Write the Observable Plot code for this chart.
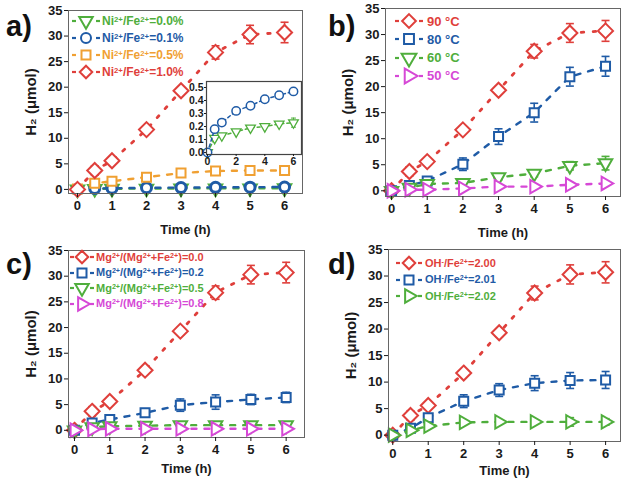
<!DOCTYPE html>
<html><head><meta charset="utf-8">
<script src="https://cdn.jsdelivr.net/npm/d3@7"></script>
<script src="https://cdn.jsdelivr.net/npm/@observablehq/plot@0.6"></script>
<style>
body{margin:0;background:#fff;}
#wrap{position:relative;width:628px;height:478px;overflow:hidden;font-family:"Liberation Sans",Arial,sans-serif;}
.panel{position:absolute;}
.plbl{position:absolute;font-weight:bold;font-size:29px;color:#111;line-height:1;}
.leg{position:absolute;font-weight:bold;white-space:nowrap;display:flex;align-items:center;transform:translateY(-50%);line-height:1;}
.leg sup{font-size:0.65em;vertical-align:0.45em;line-height:0;}
.leg svg{margin-right:1px;}
</style></head><body><div id="wrap"></div>
<script>
// ---------- data ----------
const time = [0, 0.5, 1, 2, 3, 4, 5, 6];
const xTicks = [0, 1, 2, 3, 4, 5, 6];
const yTicks = [0, 5, 10, 15, 20, 25, 30, 35];
const insetXTicks = [0, 2, 4, 6];
const insetYTicks = [0, 0.1, 0.2, 0.3, 0.4, 0.5];

// reference (Ni/Fe=1.0%, 90 °C, Mg=0.0, OH/Fe=2.00) – same sample in all panels
const redA = [0, 3.7, 5.6, 11.7, 19.3, 26.8, 30.3, 30.7];
const redErr = [0, 0.9, 0.6, 0.6, 0.7, 1.3, 1.8, 2.0];

// panel a
const aLabels = ["Ni<sup>2+</sup>/Fe<sup>2+</sup>=0.0%", "Ni<sup>2+</sup>/Fe<sup>2+</sup>=0.1%", "Ni<sup>2+</sup>/Fe<sup>2+</sup>=0.5%", "Ni<sup>2+</sup>/Fe<sup>2+</sup>=1.0%"];
const aNi00 = [0, 0.11, 0.13, 0.16, 0.19, 0.20, 0.22, 0.23];
const aNi00Err = [0, 0.01, 0.01, 0.01, 0.01, 0.01, 0.015, 0.035];
const aNi01 = [0, 0.18, 0.23, 0.32, 0.36, 0.41, 0.44, 0.47];
const aNi01Err = [0, 0.01, 0.01, 0.01, 0.01, 0.01, 0.01, 0.01];
const aNi05 = [0.1, 1.2, 1.6, 2.4, 3.2, 3.6, 3.7, 3.7];
const aNi05Err = [0, 0.3, 0.3, 0.3, 0.3, 0.3, 0.4, 0.4];

// panel b
const bLabels = ["90 °C", "80 °C", "60 °C", "50 °C"];
const b80 = [0, 1.0, 1.9, 5.1, 10.4, 15.0, 21.9, 23.9];
const b80Err = [0, 0.4, 0.4, 1.2, 1.5, 1.8, 1.8, 1.9];
const b60 = [0, 0.6, 1.3, 1.5, 2.6, 3.3, 4.8, 5.3];
const b60Err = [0, 0.3, 0.3, 0.4, 0.5, 0.6, 0.8, 1.3];
const b50 = [0, 0.2, 0.2, 0.45, 0.8, 0.8, 1.15, 1.4];
const b50Err = [0, 0.2, 0.2, 0.2, 0.2, 0.2, 0.3, 0.3];

// panel c
const cLabels = ["Mg<sup>2+</sup>/(Mg<sup>2+</sup>+Fe<sup>2+</sup>)=0.0", "Mg<sup>2+</sup>/(Mg<sup>2+</sup>+Fe<sup>2+</sup>)=0.2", "Mg<sup>2+</sup>/(Mg<sup>2+</sup>+Fe<sup>2+</sup>)=0.5", "Mg<sup>2+</sup>/(Mg<sup>2+</sup>+Fe<sup>2+</sup>)=0.8"];
const cMg02 = [0, 1.4, 2.1, 3.4, 4.9, 5.5, 6.0, 6.4];
const cMg02Err = [0, 0.4, 0.4, 0.8, 1.2, 1.4, 1.0, 1.0];
const cMg05 = [0, 0.6, 0.8, 0.9, 1.0, 1.0, 1.0, 1.0];
const cMg05Err = [0, 0.3, 0.3, 0.3, 0.3, 0.3, 0.3, 0.3];
const cMg08 = [0, 0.2, 0.3, 0.3, 0.3, 0.3, 0.3, 0.3];
const cMg08Err = [0, 0.2, 0.2, 0.2, 0.2, 0.2, 0.2, 0.2];

// panel d
const dLabels = ["OH<sup>-</sup>/Fe<sup>2+</sup>=2.00", "OH<sup>-</sup>/Fe<sup>2+</sup>=2.01", "OH<sup>-</sup>/Fe<sup>2+</sup>=2.02"];
const dOH201 = [0, 1.3, 3.3, 6.4, 8.5, 9.8, 10.3, 10.4];
const dOH201Err = [0, 0.4, 0.6, 1.2, 1.2, 1.4, 1.5, 1.6];
const dOH202 = [0, 0.9, 1.7, 2.4, 2.5, 2.5, 2.5, 2.5];
const dOH202Err = [0, 0.3, 0.3, 0.3, 0.3, 0.3, 0.8, 0.6];

// ---------- styles ----------
const RED = "#df3f3b", BLUE = "#1f5ba6", GREEN = "#4fae3c", ORANGE = "#f0a032", MAGENTA = "#d648d6";
const s3 = Math.sqrt(3);
const triDown = {draw(ctx, size){ const y = -Math.sqrt(size / (s3 * 3)); ctx.moveTo(0, -2*y); ctx.lineTo(-s3*y, y); ctx.lineTo(s3*y, y); ctx.closePath(); }};
const triRight = {draw(ctx, size){ const y = -Math.sqrt(size / (s3 * 3)); ctx.moveTo(-2*y, 0); ctx.lineTo(y, -s3*y); ctx.lineTo(y, s3*y); ctx.closePath(); }};
const capSym = {draw(ctx, size){ const w = Math.sqrt(size / Math.PI); ctx.moveTo(-w, 0); ctx.lineTo(w, 0); }};
const diamond = {draw(ctx, size){ const r = Math.sqrt(size / Math.PI) * 1.25; ctx.moveTo(0, -r); ctx.lineTo(r, 0); ctx.lineTo(0, r); ctx.lineTo(-r, 0); ctx.closePath(); }};
const square = {draw(ctx, size){ const r = Math.sqrt(size / Math.PI) * 0.9; ctx.rect(-r, -r, 2*r, 2*r); }};
const circle = "circle";

const DOT = "2.5,9.5", DASH = "5,8";

const red = (label) => ({label, values: redA, err: redErr, color: RED, symbol: diamond, dash: DOT, lw: 2.8, r: 6});

const wrap = document.getElementById("wrap");

function seriesMarks(s, r0) {
  const rows = time.map((t, i) => ({t, v: s.values[i], e: s.err[i]}));
  const errRows = rows.filter(d => d.e > 0);
  const sw = s.sw || 2;
  return [
    Plot.line(rows, {x: "t", y: "v", stroke: s.color, strokeWidth: s.lw || 2.4, strokeDasharray: s.dash}),
    Plot.ruleX(errRows, {x: "t", y1: d => d.v - d.e, y2: d => d.v + d.e, stroke: s.color, strokeWidth: 1.6}),
    Plot.dot(errRows, {x: "t", y: d => d.v + d.e, symbol: capSym, r: 4, stroke: s.color, strokeWidth: 1.6}),
    Plot.dot(errRows, {x: "t", y: d => d.v - d.e, symbol: capSym, r: 4, stroke: s.color, strokeWidth: 1.6}),
    Plot.dot(rows, {x: "t", y: "v", symbol: s.symbol, r: s.r || r0, stroke: s.color, strokeWidth: sw, fill: "white"})
  ];
}

function makePanel(cfg) {
  const marks = [Plot.frame({fill: "white"})];
  for (const s of cfg.series) marks.push(...seriesMarks(s, 5));
  marks.push(Plot.frame({stroke: "#666", strokeWidth: 1}));
  marks.push(Plot.axisX({ticks: xTicks, tickSize: 4, tickPadding: 3, fontSize: 13, fontWeight: "bold", tickFormat: d => d,
    label: "Time (h)", labelAnchor: "center", labelArrow: "none", labelOffset: cfg.xLabelOffset}));
  marks.push(Plot.axisY({ticks: yTicks, tickSize: 4, tickPadding: 2, fontSize: 13, fontWeight: "bold", tickFormat: d => d, label: null}));
  marks.push(Plot.axisY({ticks: [], fontSize: 15, fontWeight: "bold",
    label: "H₂ (μmol)", labelAnchor: "center", labelArrow: "none", labelOffset: cfg.yLabelOffset}));
  const p = Plot.plot({
    width: cfg.width, height: cfg.height,
    marginLeft: cfg.m[0], marginRight: cfg.m[1], marginTop: cfg.m[2], marginBottom: cfg.m[3],
    x: {domain: cfg.xDomain},
    y: {domain: cfg.yDomain},
    style: {fontFamily: "Liberation Sans, Arial, sans-serif", color: "#1a1a1a", background: "transparent", overflow: "visible"},
    marks
  });
  p.classList.add("panel");
  p.style.left = cfg.left + "px"; p.style.top = cfg.top + "px";
  wrap.appendChild(p);
}

function symbolPath(sym, r) { return d3.symbol(sym === "circle" ? d3.symbolCircle : sym, Math.PI * r * r)(); }

function makeLegend(series, opt) {
  series.forEach((s, i) => {
    const div = document.createElement("div");
    div.className = "leg";
    div.style.left = opt.x + "px";
    div.style.top = (opt.y + i * opt.dy) + "px";
    div.style.fontSize = opt.fs + "px";
    div.style.color = s.color;
    const w = opt.sw;
    div.innerHTML = `<svg width="${w}" height="14" viewBox="${-w/2} -7 ${w} 14" style="overflow:visible">
      <line x1="${-w/2}" x2="${-w/2 + 4}" y1="0" y2="0" stroke="${s.color}" stroke-width="2.2" />
      <line x1="${w/2 - 4}" x2="${w/2}" y1="0" y2="0" stroke="${s.color}" stroke-width="2.2" />
      <path d="${symbolPath(s.symbol, opt.r)}" fill="white" stroke="${s.color}" stroke-width="2"/></svg><span style="margin-left:${opt.gap}px">${s.label}</span>`;
    wrap.appendChild(div);
  });
}

function panelLabel(text, x, y) {
  const d = document.createElement("div");
  d.className = "plbl"; d.textContent = text;
  d.style.left = x + "px"; d.style.top = y + "px";
  wrap.appendChild(d);
}

// ---------- panel a ----------
const seriesA = [
  {label: aLabels[0], values: aNi00, err: aNi00Err, color: GREEN, symbol: triDown, dash: DASH},
  {label: aLabels[1], values: aNi01, err: aNi01Err, color: BLUE, symbol: circle, dash: DASH, sw: 3, r: 5},
  {label: aLabels[2], values: aNi05, err: aNi05Err, color: ORANGE, symbol: square, dash: DASH},
  red(aLabels[3])
];
makePanel({series: seriesA, left: 0, top: 0, width: 314, height: 239, m: [68, 12, 10, 46],
  xDomain: [-0.26, 6.52], yDomain: [-0.8, 35], xLabelOffset: 40, yLabelOffset: 43});

// inset
{
  const insetSeries = [
    {values: aNi00, err: aNi00Err, color: GREEN, symbol: triDown, dash: DASH, lw: 1.5, sw: 1.3, r: 3.6},
    {values: aNi01, err: aNi01Err.map(() => 0), color: BLUE, symbol: circle, dash: DASH, lw: 1.5, sw: 1.5, r: 4.2}
  ];
  const marks = [Plot.frame({fill: "white"})];
  for (const s of insetSeries) {
    const rows = time.map((t, i) => ({t, v: s.values[i], e: s.err[i]}));
    const errRows = rows.filter(d => d.e > 0.02);
    marks.push(
      Plot.line(rows, {x: "t", y: "v", stroke: s.color, strokeWidth: s.lw, strokeDasharray: "3,3"}),
      Plot.ruleX(errRows, {x: "t", y1: d => d.v - d.e, y2: d => d.v + d.e, stroke: s.color, strokeWidth: 1}),
      Plot.dot(errRows, {x: "t", y: d => d.v + d.e, symbol: capSym, r: 2.5, stroke: s.color, strokeWidth: 1}),
      Plot.dot(errRows, {x: "t", y: d => d.v - d.e, symbol: capSym, r: 2.5, stroke: s.color, strokeWidth: 1}),
      Plot.dot(rows, {x: "t", y: "v", symbol: s.symbol, r: s.r, stroke: s.color, strokeWidth: s.sw, fill: "white"})
    );
  }
  marks.push(Plot.frame({stroke: "#444", strokeWidth: 1.2}));
  marks.push(Plot.axisX({ticks: insetXTicks, tickSize: 2, tickPadding: 1, fontSize: 10.5, fontWeight: "bold", tickFormat: d => d, label: null}));
  marks.push(Plot.axisY({ticks: insetYTicks, tickSize: 2, tickPadding: 1, fontSize: 10.5, fontWeight: "bold", tickFormat: d3.format(".1f"), label: null}));
  const p = Plot.plot({
    width: 126, height: 95, marginLeft: 26, marginRight: 5, marginTop: 6, marginBottom: 16,
    x: {domain: [-0.07, 6.56]}, y: {domain: [-0.015, 0.546]},
    style: {fontFamily: "Liberation Sans, Arial, sans-serif", color: "#1a1a1a", background: "transparent", overflow: "visible"},
    marks
  });
  p.classList.add("panel");
  p.style.left = "180px"; p.style.top = "75px";
  wrap.appendChild(p);
}
makeLegend(seriesA, {x: 72, y: 20.5, dy: 17, fs: 12, r: 5, sw: 28, gap: 1});
panelLabel("a)", 6, 12);

// ---------- panel b ----------
const seriesB = [
  red(bLabels[0]),
  {label: bLabels[1], values: b80, err: b80Err, color: BLUE, symbol: square, dash: DASH},
  {label: bLabels[2], values: b60, err: b60Err, color: GREEN, symbol: triDown, dash: DASH},
  {label: bLabels[3], values: b50, err: b50Err, color: MAGENTA, symbol: triRight, dash: DASH}
];
makePanel({series: seriesB, left: 314, top: 0, width: 314, height: 239, m: [71, 8, 8, 43],
  xDomain: [-0.17, 6.42], yDomain: [-1.1, 35], xLabelOffset: 40, yLabelOffset: 43});
makeLegend(seriesB, {x: 395, y: 21, dy: 18.3, fs: 13, r: 5.5, sw: 28, gap: 3});
panelLabel("b)", 328, 12);

// ---------- panel c ----------
const seriesC = [
  red(cLabels[0]),
  {label: cLabels[1], values: cMg02, err: cMg02Err, color: BLUE, symbol: square, dash: DASH},
  {label: cLabels[2], values: cMg05, err: cMg05Err, color: GREEN, symbol: triDown, dash: DASH},
  {label: cLabels[3], values: cMg08, err: cMg08Err, color: MAGENTA, symbol: triRight, dash: DASH}
];
makePanel({series: seriesC, left: 0, top: 239, width: 314, height: 239, m: [68, 10, 11, 41],
  xDomain: [-0.17, 6.52], yDomain: [-1.4, 35], xLabelOffset: 35, yLabelOffset: 43});
makeLegend(seriesC, {x: 70, y: 257, dy: 15.5, fs: 11, r: 5, sw: 24, gap: 1});
panelLabel("c)", 6, 250);

// ---------- panel d ----------
const seriesD = [
  red(dLabels[0]),
  {label: dLabels[1], values: dOH201, err: dOH201Err, color: BLUE, symbol: square, dash: DASH},
  {label: dLabels[2], values: dOH202, err: dOH202Err, color: GREEN, symbol: triRight, dash: DASH}
];
makePanel({series: seriesD, left: 314, top: 239, width: 314, height: 239, m: [74, 8, 10, 37],
  xDomain: [-0.12, 6.42], yDomain: [-1.2, 35], xLabelOffset: 33, yLabelOffset: 43});
makeLegend(seriesD, {x: 396, y: 263, dy: 16.5, fs: 11, r: 5, sw: 26, gap: 2});
panelLabel("d)", 328, 250);
</script></body></html>
